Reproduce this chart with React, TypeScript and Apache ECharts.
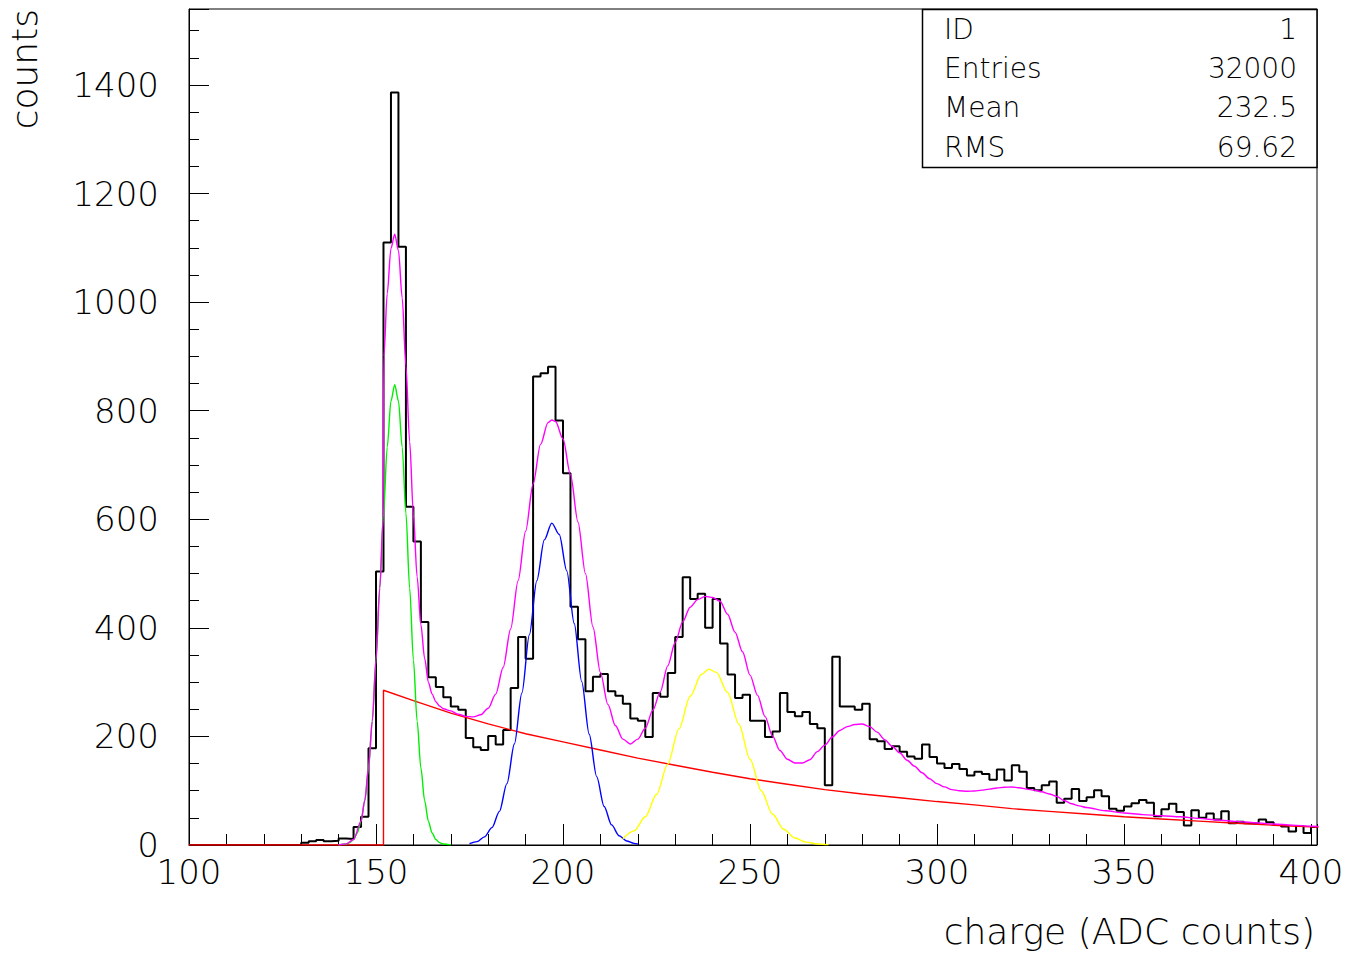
import React, { useEffect, useRef } from "react";
import * as echarts from "echarts";

// ---------------- data ----------------
const BIN_START = 100;
const BIN_WIDTH = 2;
// counts per 2-unit bin, bins starting at 100, 102, ..., 400
const counts: number[] = [
  0, 0, 0, 0, 0, 0, 0, 0, 0, 0, 0, 0, 0, 0, 0,
  4, 7, 9, 7, 8, 12, 11, 33, 52, 178,
  504, 1110, 1386, 1102, 623, 559, 411, 309, 291, 272,
  255, 249, 197, 180, 175, 201, 185, 212, 289, 383,
  343, 863, 869, 881, 782, 685, 439, 379, 283, 310,
  315, 283, 275, 260, 233, 229, 199, 280, 273, 317,
  383, 493, 453, 463, 400, 453, 371, 314, 271, 277,
  229, 229, 199, 209, 280, 245, 237, 245, 223, 215,
  110, 347, 255, 255, 249, 260, 195, 191, 177, 182,
  172, 163, 159, 185, 162, 150, 142, 149, 140, 128,
  135, 131, 120, 139, 119, 147, 135, 105, 101, 110,
  117, 78, 85, 103, 81, 88, 101, 90, 67, 63,
  71, 77, 83, 78, 53, 66, 76, 61, 36, 64,
  50, 58, 47, 62, 40, 43, 40, 39, 47, 42,
  37, 34, 25, 35, 22, 33,
];

const X_TICK_LABELS = [100, 150, 200, 250, 300, 350, 400];
const Y_TICK_LABELS = [0, 200, 400, 600, 800, 1000, 1200, 1400];

// fitted curves: [charge, counts]
const backgroundFit: number[][] = [
  [100, 0], [152, 0], [152, 285], [160, 266], [170, 243], [180, 223], [190, 205],
  [200, 190], [210, 175], [220, 160], [230, 147], [240, 134], [250, 122],
  [260, 112], [270, 102], [280, 94], [290, 87], [300, 80], [310, 74], [320, 67],
  [330, 62], [340, 57], [350, 52], [360, 48], [370, 44], [380, 40], [390, 36.5],
  [400, 33.5], [402, 33],
];

const peak1Fit: number[][] = [
  [140, 0.2], [142, 1.8], [143, 4.4], [144, 10], [145, 22], [146, 44], [147, 82],
  [148, 142], [149, 228], [150, 341], [151, 473], [152, 611], [153, 733],
  [154, 818], [155, 848], [156, 818], [157, 733], [158, 611], [159, 473],
  [160, 341], [161, 228], [162, 142], [163, 82], [164, 44], [165, 22], [166, 10],
  [167, 4.4], [168, 1.8], [170, 0.2],
];

const peak2Fit: number[][] = [
  [175, 2.4], [177, 6.3], [179, 15], [181, 32], [183, 62], [185, 113], [187, 186],
  [189, 280], [191, 387], [193, 487], [195, 562], [197, 593], [199, 572],
  [201, 505], [203, 408], [205, 301], [207, 204], [209, 126], [211, 71],
  [213, 37], [215, 17], [217, 7.5], [219, 3], [220, 1.8],
];

const peak3Fit: number[][] = [
  [216, 11.7], [219, 26], [222, 52], [225, 93], [228, 149], [231, 214], [234, 274],
  [237, 314], [239, 324], [241, 318], [244, 281], [247, 223], [250, 158],
  [253, 100], [256, 57], [259, 29], [262, 13], [265, 5.3], [268, 1.9], [271, 0.6],
];

const totalFit: number[][] = [
  [140, 0], [142, 2], [144, 10], [146, 44], [147, 82], [148, 142], [149, 228],
  [150, 341], [151, 473], [151.9, 600], [152.1, 900], [153, 1016], [154, 1099],
  [155, 1125], [156, 1095], [157, 1008], [158, 883], [159, 743], [160, 609],
  [161, 494], [162, 406], [163, 344], [164, 300], [165, 278], [166, 264],
  [167, 256], [168, 251], [170, 247], [172, 241], [174, 237], [176, 236],
  [178, 240], [180, 252], [182, 278], [184, 327], [186, 398], [188, 487],
  [190, 578], [192, 665], [194, 738], [196, 778], [197, 783], [198, 780],
  [200, 748], [202, 682], [204, 595], [206, 500], [208, 402], [210, 318],
  [212, 259], [214, 220], [216, 195], [218, 186], [220, 195], [222, 215],
  [224, 248], [226, 282], [228, 330], [230, 373], [232, 411], [234, 438],
  [236, 452], [238, 458], [240, 456], [242, 449], [244, 425], [246, 392],
  [248, 356], [250, 313], [252, 276], [254, 237], [256, 201], [258, 174],
  [260, 158], [262, 151], [264, 151], [266, 157], [268, 172], [270, 184],
  [272, 199], [274, 211], [276, 218], [278, 222], [280, 223], [282, 218],
  [284, 208], [286, 194], [288, 182], [290, 170], [292, 156], [294, 145],
  [296, 133], [298, 122], [300, 113], [302, 107], [304, 102], [306, 100],
  [308, 99], [310, 99.5], [312, 101], [314, 103], [316, 105], [318, 106.5],
  [320, 106.8], [322, 105.5], [324, 103], [326, 101], [328, 98], [330, 94],
  [332, 89.5], [334, 82], [336, 76], [338, 72], [340, 69], [345, 63], [350, 59],
  [355, 56], [360, 54], [365, 52], [370, 49], [375, 46], [380, 43.5], [385, 41],
  [390, 38.7], [395, 36.7], [400, 34.5], [402, 34],
];

const statNames = ["ID", "Entries", "Mean", "RMS"];
const statValues = ["1", "32000", "232.5", "69.62"];

const FONT = "'DejaVu Sans', sans-serif";
const WEIGHT = 200;

export default function App() {
  const ref = useRef<HTMLDivElement>(null);

  useEffect(() => {
    if (!ref.current) return;
    const chart = echarts.init(ref.current, undefined, { renderer: "svg" });

    const histData: number[][] = counts.map((c, i) => [BIN_START + i * BIN_WIDTH, c]);
    histData.push([BIN_START + counts.length * BIN_WIDTH, counts[counts.length - 1]]);

    const rowY = [29, 68, 107, 147];
    const statGraphics: any[] = [
      {
        type: "rect",
        shape: { x: 922.5, y: 9.5, width: 394.5, height: 158 },
        style: { fill: "#fff", stroke: "#000", lineWidth: 1.5 },
        z: 10,
      },
    ];
    statNames.forEach((n, i) => {
      statGraphics.push({
        type: "text",
        x: 944,
        y: rowY[i],
        z: 11,
        style: { text: n, font: `${WEIGHT} 28px ${FONT}`, fill: "#000", align: "left", verticalAlign: "middle" },
      });
      statGraphics.push({
        type: "text",
        x: 1297,
        y: rowY[i],
        z: 11,
        style: { text: statValues[i], font: `${WEIGHT} 28px ${FONT}`, fill: "#000", align: "right", verticalAlign: "middle" },
      });
    });

    const curve = (name: string, data: number[][], color: string, smooth: number | boolean) => ({
      name,
      type: "line",
      data,
      showSymbol: false,
      symbol: "none",
      smooth,
      smoothMonotone: "x",
      lineStyle: { color, width: 1.4 },
      silent: true,
      z: 3,
    });

    chart.setOption({
      animation: false,
      backgroundColor: "#fff",
      textStyle: { fontFamily: FONT, fontWeight: WEIGHT },
      grid: {
        left: 189,
        top: 9,
        right: 39,
        bottom: 110,
        show: true,
        borderColor: "#000",
        borderWidth: 1,
        backgroundColor: "transparent",
      },
      xAxis: [
        {
          type: "value",
          min: 100,
          max: 401.6,
          interval: 10,
          axisLine: { show: true, onZero: false, lineStyle: { color: "#000", width: 1 } },
          axisTick: { show: true, inside: true, length: 11, lineStyle: { color: "#000" } },
          axisLabel: { show: false },
          splitLine: { show: false },
        },
        {
          type: "value",
          position: "bottom",
          min: 100,
          max: 401.6,
          interval: 50,
          axisLine: { show: false },
          axisTick: { show: true, inside: true, length: 21, lineStyle: { color: "#000" } },
          axisLabel: {
            show: true,
            color: "#000",
            fontSize: 34,
            fontFamily: FONT,
            fontWeight: WEIGHT,
            margin: 10,
            formatter: (v: number) => (X_TICK_LABELS.includes(v) ? String(v) : ""),
          },
          splitLine: { show: false },
        },
      ],
      yAxis: [
        {
          type: "value",
          min: 0,
          max: 1540,
          interval: 50,
          axisLine: { show: true, onZero: false, lineStyle: { color: "#000", width: 1 } },
          axisTick: { show: true, inside: true, length: 10, lineStyle: { color: "#000" } },
          axisLabel: { show: false },
          splitLine: { show: false },
        },
        {
          type: "value",
          position: "left",
          min: 0,
          max: 1540,
          interval: 200,
          axisLine: { show: false },
          axisTick: { show: true, inside: true, length: 20, lineStyle: { color: "#000" } },
          axisLabel: {
            show: true,
            color: "#000",
            fontSize: 34,
            fontFamily: FONT,
            fontWeight: WEIGHT,
            margin: 30,
            formatter: (v: number) => (Y_TICK_LABELS.includes(v) ? String(v) : ""),
          },
          splitLine: { show: false },
        },
      ],
      series: [
        {
          name: "histogram",
          type: "line",
          step: "end",
          data: histData,
          showSymbol: false,
          symbol: "none",
          lineStyle: { color: "#000", width: 2 },
          silent: true,
          z: 2,
        },
        curve("background", backgroundFit, "#ff0000", false),
        curve("peak 1", peak1Fit, "#00ee00", 0.3),
        curve("peak 2", peak2Fit, "#0000ff", 0.3),
        curve("peak 3", peak3Fit, "#ffff00", 0.3),
        curve("total", totalFit, "#ff00ff", 0.3),
      ],
      graphic: [
        ...statGraphics,
        {
          type: "text",
          x: 1315,
          y: 931,
          style: { text: "charge (ADC counts)", font: `${WEIGHT} 36px ${FONT}`, fill: "#000", align: "right", verticalAlign: "middle" },
        },
        {
          type: "text",
          x: 24,
          y: 9,
          rotation: Math.PI / 2,
          style: { text: "counts", font: `${WEIGHT} 36px ${FONT}`, fill: "#000", align: "right", verticalAlign: "middle" },
        },
      ],
    });

    return () => chart.dispose();
  }, []);

  return (
    <div
      ref={ref}
      style={{ position: "fixed", left: 0, top: 0, width: 1356, height: 955, background: "#fff" }}
    />
  );
}
